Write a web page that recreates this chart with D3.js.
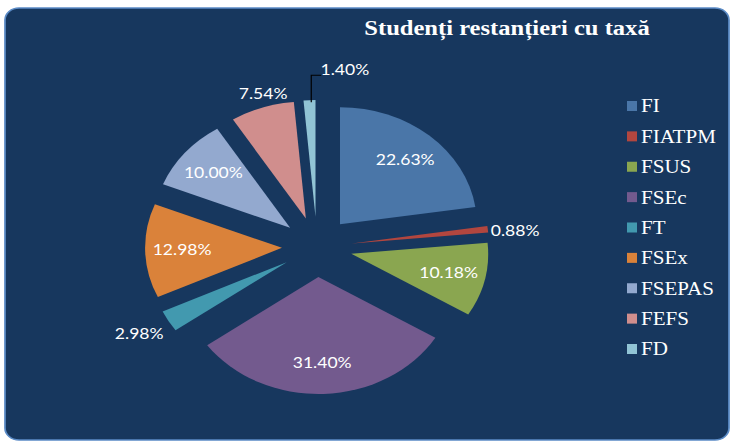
<!DOCTYPE html>
<head>
<meta charset="utf-8">
<title>Studenti restantieri cu taxa</title>
<style>
body { margin: 0; background: #fff; }
svg { display: block; }
.lbl { font-family: Lato, "Noto Sans", sans-serif; font-size: 15px; fill: #fff; }
.leg { font-family: "Liberation Serif", "DejaVu Serif", serif; font-size: 18px; fill: #fff; }
.title { font-family: "Liberation Serif", "DejaVu Serif", serif; font-size: 21px; font-weight: bold; fill: #fff; }
</style>
</head>
<body>
<svg id="chart"></svg>

<script src="https://cdn.jsdelivr.net/npm/d3@7"></script>
<script>

// data
var categories = ["FI", "FIATPM", "FSUS", "FSEc", "FT", "FSEx", "FSEPAS", "FEFS", "FD"];
var values = [22.63, 0.88, 10.18, 31.40, 2.98, 12.98, 10.00, 7.54, 1.40];
var colors = ["#4A76A8", "#B2463F", "#8AA650", "#735A8E", "#4299AF", "#DA823A", "#93A9CF", "#D08E8D", "#91C4D5"];
var title = "Studenți restanțieri cu taxă";

var W = 730, H = 441;
var sx = 1.17;   // the original is stretched horizontally

var svg = d3.select("#chart").attr("width", W).attr("height", H);
var g = svg.append("g").attr("transform", "scale(" + sx + ",1)");

g.append("rect")
    .attr("x", 5 / sx).attr("y", 8)
    .attr("width", (724) / sx).attr("height", 432)
    .attr("rx", 12).attr("ry", 12)
    .attr("fill", "#17375E")
    .attr("stroke", "#5B8BC6")
    .attr("stroke-width", 1.5);

g.append("text")
    .attr("class", "title")
    .attr("x", 507 / sx).attr("y", 35)
    .attr("text-anchor", "middle")
    .text(title);

var cx = 271, cy = 247, r = 117, explode = 30;

var pie = d3.pie().sort(null).value(function(d) { return d; });
var arcs = pie(values);
var arc = d3.arc().innerRadius(0).outerRadius(r);

function dir(d) {
	var a = (d.startAngle + d.endAngle) / 2;
	return [Math.sin(a), -Math.cos(a)];
}

var pg = g.append("g").attr("transform", "translate(" + cx + "," + cy + ")");

pg.selectAll("path")
	.data(arcs)
	.enter().append("path")
		.attr("d", arc)
		.attr("fill", function(d, i) { return colors[i]; })
		.attr("transform", function(d) {
			var v = dir(d);
			return "translate(" + v[0] * explode + "," + v[1] * explode + ")";
		});

// label placement: inside for large slices, outside for small ones
var outside = {
	"FIATPM": {anchor: "start", dx: 3, dy: 2},
	"FT": {anchor: "end", dx: -5, dy: 13},
	"FEFS": {anchor: "middle", dx: 1, dy: -14},
	"FD": {anchor: "start", dx: 11, dy: -30, leader: true}
};

arcs.forEach(function(d, i) {
	var v = dir(d);
	var name = categories[i];
	var txt = values[i].toFixed(2) + "%";
	var o = outside[name];
	var px, py;
	if (!o) {
		var lr = explode + 0.73 * r;
		px = cx + v[0] * lr;
		py = cy + v[1] * lr;
		g.append("text").attr("class", "lbl")
			.attr("transform", "translate(" + px + "," + py + ") scale(" + (1 / sx) * sx + ",1)")
			.attr("text-anchor", "middle")
			.attr("dy", "0.35em")
			.text(txt);
		return;
	}
	var orr = explode + r;
	px = cx + v[0] * orr;
	py = cy + v[1] * orr;
	if (o.leader) {
		g.append("path")
			.attr("d", d3.line()([[px + 1.5, py + 2], [px + 1.5, py - 25], [px + 10, py - 25]]))
			.attr("fill", "none")
			.attr("stroke", "#000")
			.attr("stroke-width", 1.2 / sx);
	}
	g.append("text").attr("class", "lbl")
		.attr("x", px + o.dx / sx).attr("y", py + o.dy)
		.attr("text-anchor", o.anchor)
		.attr("dy", "0.35em")
		.text(txt);
});

// legend
var lg = g.append("g");
var rowY = d3.scalePoint().domain(categories).range([106, 349]);

lg.selectAll("rect")
	.data(categories)
	.enter().append("rect")
		.attr("x", 627 / sx)
		.attr("y", function(d) { return rowY(d) - 5; })
		.attr("width", 10 / sx)
		.attr("height", 10)
		.attr("fill", function(d, i) { return colors[i]; });

lg.selectAll("text")
	.data(categories)
	.enter().append("text")
		.attr("class", "leg")
		.attr("x", 641 / sx)
		.attr("y", function(d) { return rowY(d); })
		.attr("dy", "0.36em")
		.text(function(d) { return d; });

</script>
</body>
